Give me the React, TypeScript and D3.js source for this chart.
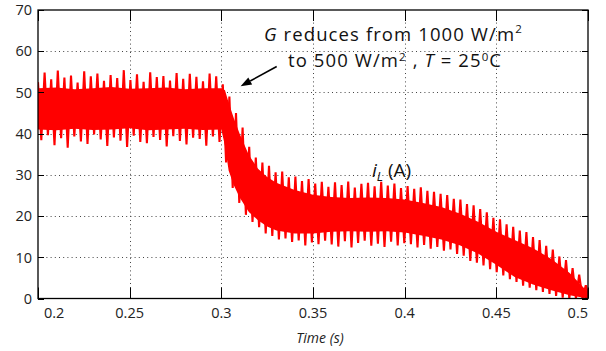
import React from 'react';
import * as d3 from 'd3';

// axis ticks
const xTicks = [0.2, 0.25, 0.3, 0.35, 0.4, 0.45, 0.5];
const yTicks = [0, 10, 20, 30, 40, 50, 60, 70];
const gridX = [0.25, 0.3, 0.35, 0.4, 0.45];
const gridY = [10, 20, 30, 40, 50, 60];

// solid core of the switching band
const coreTime = [0.2, 0.21, 0.22, 0.23, 0.24, 0.25, 0.26, 0.27, 0.28, 0.29, 0.3, 0.302, 0.304, 0.307, 0.31, 0.315, 0.32,
    0.325, 0.33, 0.34, 0.35, 0.36, 0.37, 0.38, 0.39, 0.4, 0.41, 0.42, 0.43, 0.44, 0.45, 0.46, 0.47, 0.48, 0.49, 0.5];
const coreTop = [51, 51.2, 50.8, 51, 51.3, 50.9, 51, 51.2, 50.8, 51, 51, 50.5, 47.5, 43.5, 40, 34.8, 31.5,
    29.5, 28.1, 26.3, 25.2, 24.6, 24.4, 24.5, 24.4, 24, 23.2, 22.2, 20.6, 18.6, 16.2, 14.2, 12.2, 9.6, 6.2, 1.5];
const coreBottom = [41, 40.8, 41.2, 40.9, 41, 41.3, 40.8, 41, 41.2, 40.9, 41, 37, 31, 27.3, 24.5, 21, 19,
    17.5, 16.5, 15.8, 15.8, 16.2, 16.3, 16.2, 16.3, 16, 15.2, 14.3, 12.9, 10.9, 8.2, 5.2, 3.4, 2.0, 0.8, 0];

// ripple peaks, one per ripple cycle
const rippleStart = 0.2;
const rippleStep = 0.0036;
const peakHi = [
    52.5, 54.8, 53.2, 55.3, 53.6, 54.1, 52.4, 55.1, 53.9, 54.6, 52.8, 54.2, 53.5, 55.4, 53.0, 54.4, 52.6, 54.9, 53.7, 54.0,
    52.9, 54.7, 53.3, 54.5, 53.8, 52.7, 54.6, 53.9,
    52, 49, 45, 41.5, 36.8, 34.2, 33.0, 32.2, 30.6, 30.8, 29.4, 29.6, 28.5, 29.0, 27.9, 28.3,
    27.1, 28.2, 27.5, 28.4, 26.9, 27.8, 28.1, 27.2, 28.3, 27.4, 27.9, 26.8,
    27.3, 26.6, 27.0, 26.1, 25.9, 25.4, 25.1, 24.2, 24.0, 22.9, 22.6, 21.7, 20.9, 19.6, 19.2, 18.0, 17.4, 16.5, 16.1, 14.9,
    14.2, 12.8, 11.9, 10.2, 9.3, 7.4, 5.8, 3.2,
];
const peakLo = [
    38.4, 39.6, 37.2, 38.9, 36.6, 39.3, 38.1, 37.5, 39.8, 38.6, 37.0, 39.1, 38.3, 36.8, 39.5, 38.0, 37.7, 39.2, 38.5, 36.9,
    39.4, 38.2, 37.4, 39.0, 38.7, 37.1, 39.3, 38.0,
    33, 26.8, 23.2, 20.3, 18.6, 17.3, 15.8, 15.2, 14.3, 14.6, 13.7, 14.1, 12.9, 13.6, 13.2, 14.0,
    13.1, 12.6, 13.9, 12.4, 13.5, 14.0, 12.8, 13.3, 12.5, 13.8, 12.9, 13.4,
    13.2, 12.4, 13.0, 12.1, 12.5, 11.6, 11.9, 10.8, 10.4, 9.1, 8.7, 8.0, 7.1, 6.4, 5.6, 4.7, 4.0, 3.1, 2.6, 2.0,
    1.6, 1.1, 0.6, 0.2, 0, 0, 0, 0,
];

const font = "'Open Sans', 'Noto Sans', sans-serif";

const App = () => {
    const width = 606;
    const height = 351;
    const margin = { top: 10, right: 18, bottom: 52.5, left: 38 };

    const x = d3.scaleLinear().domain([0.2, 0.5]).range([margin.left, width - margin.right]);
    const y = d3.scaleLinear().domain([0, 70]).range([height - margin.bottom, margin.top]);
    const [x0, x1] = x.range();
    const [yb, yt] = y.range();

    // core band
    const coreArea = d3.area<number>()
        .x((d, i) => x(coreTime[i]))
        .y0((d, i) => y(coreBottom[i]))
        .y1((d) => y(d));

    // ripple zigzag: high peak then low peak each cycle
    const ripplePts: [number, number][] = [];
    peakHi.forEach((hi, i) => {
        const t = rippleStart + i * rippleStep;
        ripplePts.push([t, hi]);
        ripplePts.push([t + rippleStep / 2, peakLo[i]]);
    });
    const rippleLine = d3.line<[number, number]>()
        .x((d) => x(d[0]))
        .y((d) => y(d[1]));

    // annotation arrow in data units
    const tail = [x(0.3302), y(56.3)];
    const tip = [x(0.3105), y(51.5)];
    const ang = Math.atan2(tip[1] - tail[1], tip[0] - tail[0]);
    const headLen = 11;
    const headW = 4;
    const base = [tip[0] - headLen * Math.cos(ang), tip[1] - headLen * Math.sin(ang)];
    const head = [
        tip,
        [base[0] + headW * Math.sin(ang), base[1] - headW * Math.cos(ang)],
        [base[0] - headW * Math.sin(ang), base[1] + headW * Math.cos(ang)],
    ].map((p) => p.join(',')).join(' ');

    return (
        <svg width={width} height={height} style={{ position: 'absolute', left: 0, top: 0, background: '#fff' }}
            fontFamily={font}>
            <defs>
                <clipPath id="plot-clip">
                    <rect x={x0} y={yt} width={x1 - x0} height={yb - yt} />
                </clipPath>
            </defs>

            {/* grid */}
            <g stroke="#444" strokeWidth={1} strokeDasharray="1 3.2">
                {gridX.map((t) => (
                    <line key={`gx${t}`} x1={Math.round(x(t)) + 0.5} x2={Math.round(x(t)) + 0.5} y1={yt} y2={yb} />
                ))}
                {gridY.map((v) => (
                    <line key={`gy${v}`} x1={x0} x2={x1} y1={Math.round(y(v)) + 0.5} y2={Math.round(y(v)) + 0.5} />
                ))}
            </g>

            {/* signal */}
            <g clipPath="url(#plot-clip)">
                <path d={coreArea(coreTop) || ''} fill="#ff0000" />
                <path d={rippleLine(ripplePts) || ''} fill="none" stroke="#ff0000" strokeWidth={2.1} />
            </g>

            {/* ticks */}
            <g stroke="#000" strokeWidth={1}>
                {xTicks.map((t) => (
                    <g key={`xt${t}`}>
                        <line x1={Math.round(x(t)) + 0.5} x2={Math.round(x(t)) + 0.5} y1={yb} y2={yb - 11} />
                        <line x1={Math.round(x(t)) + 0.5} x2={Math.round(x(t)) + 0.5} y1={yt} y2={yt + 11} />
                    </g>
                ))}
                {yTicks.map((v) => (
                    <g key={`yt${v}`}>
                        <line x1={x0} x2={x0 + 6} y1={Math.round(y(v)) + 0.5} y2={Math.round(y(v)) + 0.5} />
                        <line x1={x1} x2={x1 - 6} y1={Math.round(y(v)) + 0.5} y2={Math.round(y(v)) + 0.5} />
                    </g>
                ))}
            </g>

            {/* frame */}
            <rect x={x0} y={yt} width={x1 - x0} height={yb - yt} fill="none" stroke="#000" strokeWidth={1.3} />

            {/* tick labels */}
            <g fontSize={14.5} fill="#222">
                {xTicks.map((t, i) => {
                    let anchor = 'middle';
                    let dx = 0;
                    if (i === 0) { anchor = 'start'; dx = 6; }
                    if (i === xTicks.length - 1) { anchor = 'end'; dx = 0; }
                    return (
                        <text key={`xl${t}`} x={x(t) + dx} y={318} textAnchor={anchor}>{t}</text>
                    );
                })}
                {yTicks.map((v) => (
                    <text key={`yl${v}`} x={32} y={y(v)} dy="0.36em" textAnchor="end">{v}</text>
                ))}
            </g>

            {/* axis title */}
            <text x={320} y={343} fontSize={14} fontStyle="italic" textAnchor="middle" fill="#222">Time (s)</text>

            {/* annotation */}
            <g fontSize={18.5} fill="#111" letterSpacing={1.1}>
                <text x={264} y={41}>
                    <tspan fontStyle="italic">G</tspan> reduces from 1000 W/m
                    <tspan dy={-8} fontSize={11.5}>2</tspan>
                </text>
                <text x={288} y={67}>
                    to 500 W/m
                    <tspan dy={-6} fontSize={11.5}>2</tspan>
                    <tspan dy={6}> , </tspan>
                    <tspan fontStyle="italic">T</tspan> = 25
                    <tspan dy={-6} fontSize={11.5}>0</tspan>
                    <tspan dy={6}>C</tspan>
                </text>
            </g>
            <line x1={tail[0]} y1={tail[1]} x2={base[0]} y2={base[1]} stroke="#000" strokeWidth={1.6} />
            <polygon points={head} fill="#000" />

            <text x={372} y={177} fontSize={19} fill="#111">
                <tspan fontStyle="italic">i</tspan>
                <tspan fontStyle="italic" fontSize={13} dy={4}>L</tspan>
                <tspan dy={-4}> (A)</tspan>
            </text>
        </svg>
    );
};

export default App;
